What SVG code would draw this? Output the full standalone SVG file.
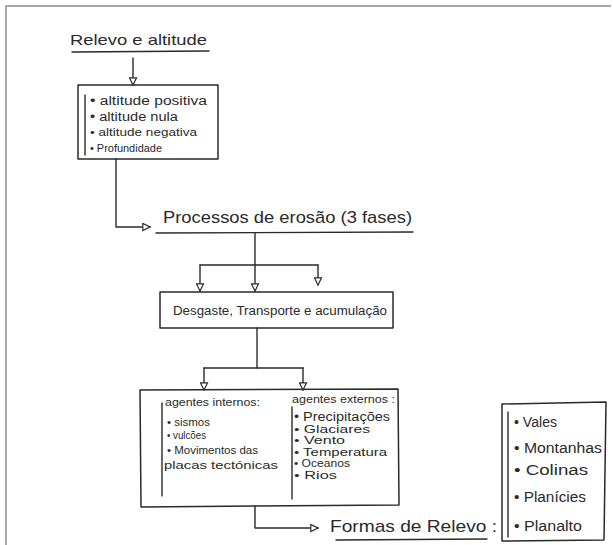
<svg xmlns="http://www.w3.org/2000/svg" width="613" height="545" viewBox="0 0 613 545">
<style>
.ln{fill:none;stroke:#2a2a2a;stroke-width:1.4;stroke-linecap:round;stroke-linejoin:round}
.bx{fill:none;stroke:#2a2a2a;stroke-width:1.5;stroke-linejoin:round}
.t{font-family:"Liberation Sans",Arial,sans-serif;fill:#2a2a2a}
.s10{font-size:10px}.s11{font-size:11px}.s12{font-size:12px}.s14{font-size:14px}.s15{font-size:15px}.s17{font-size:17px}
</style>
<defs>
<marker id="ah" viewBox="0 0 10 10" refX="9" refY="5" markerWidth="9" markerHeight="9" markerUnits="userSpaceOnUse" orient="auto">
<path d="M1,1 L9,5 L1,9 Z" fill="#fff" stroke="#2a2a2a" stroke-width="1.3"/>
</marker>
</defs>
<rect width="613" height="545" fill="#fff"/>
<path d="M6,545 L6,6 L611,6" fill="none" stroke="#8a8a8a" stroke-width="1.5"/>

<g id="title">
<text class="t s15" x="70" y="45" textLength="137" lengthAdjust="spacingAndGlyphs">Relevo e altitude</text>
<line class="ln" x1="72" y1="52" x2="209" y2="51"/>
</g>

<g id="altitude-box">
<rect class="bx" x="78" y="85" width="140" height="74"/>
<line class="ln" x1="85" y1="95" x2="85" y2="155"/>
<text class="t s12" x="90" y="105" textLength="117" lengthAdjust="spacingAndGlyphs">• altitude positiva</text>
<text class="t s12" x="90" y="121" textLength="88" lengthAdjust="spacingAndGlyphs">• altitude nula</text>
<text class="t s11" x="90" y="136" textLength="107" lengthAdjust="spacingAndGlyphs">• altitude negativa</text>
<text class="t s11" x="90" y="152" textLength="72" lengthAdjust="spacingAndGlyphs">• Profundidade</text>
</g>

<g id="erosao">
<text class="t s17" x="163" y="223" textLength="249" lengthAdjust="spacingAndGlyphs">Processos de erosão (3 fases)</text>
<line class="ln" x1="156" y1="233" x2="413" y2="232"/>
</g>

<g id="fases-box">
<rect class="bx" x="160" y="292" width="233" height="36"/>
<text class="t s12" x="173" y="315" textLength="214" lengthAdjust="spacingAndGlyphs">Desgaste, Transporte e acumulação</text>
</g>

<g id="agentes-box">
<path class="bx" d="M140,390 L398,389 L399,505 L141,507 Z"/>
<line class="ln" x1="162" y1="403" x2="162" y2="496"/>
<line class="ln" x1="292" y1="407" x2="292" y2="499"/>
<text class="t s11" x="165" y="406" textLength="95" lengthAdjust="spacingAndGlyphs">agentes internos:</text>
<text class="t s10" x="167" y="426" textLength="43" lengthAdjust="spacingAndGlyphs">• sismos</text>
<text class="t s10" x="167" y="439" textLength="39" lengthAdjust="spacingAndGlyphs">• vulcões</text>
<text class="t s11" x="167" y="454" textLength="91" lengthAdjust="spacingAndGlyphs">• Movimentos das</text>
<text class="t s11" x="164" y="469" textLength="114" lengthAdjust="spacingAndGlyphs">placas tectónicas</text>
<text class="t s11" x="292" y="403" textLength="103" lengthAdjust="spacingAndGlyphs">agentes externos :</text>
<text class="t s12" x="294" y="421" textLength="96" lengthAdjust="spacingAndGlyphs">• Precipitações</text>
<text class="t s10" x="294" y="433" textLength="76" lengthAdjust="spacingAndGlyphs">• Glaciares</text>
<text class="t s10" x="294" y="444" textLength="51" lengthAdjust="spacingAndGlyphs">• Vento</text>
<text class="t s11" x="294" y="456" textLength="93" lengthAdjust="spacingAndGlyphs">• Temperatura</text>
<text class="t s10" x="294" y="467" textLength="56" lengthAdjust="spacingAndGlyphs">• Oceanos</text>
<text class="t s10" x="294" y="479" textLength="43" lengthAdjust="spacingAndGlyphs">• Rios</text>
</g>

<g id="formas">
<text class="t s17" x="330" y="532" textLength="167" lengthAdjust="spacingAndGlyphs">Formas de Relevo :</text>
<line class="ln" x1="336" y1="540" x2="487" y2="539"/>
</g>

<g id="formas-box">
<path class="bx" d="M502,404 L606,402 L604,540 L502,541 Z"/>
<line class="ln" x1="508" y1="412" x2="508" y2="537"/>
<text class="t s14" x="514" y="427" textLength="43" lengthAdjust="spacingAndGlyphs">• Vales</text>
<text class="t s14" x="514" y="453" textLength="88" lengthAdjust="spacingAndGlyphs">• Montanhas</text>
<text class="t s14" x="514" y="475" textLength="74" lengthAdjust="spacingAndGlyphs">• Colinas</text>
<text class="t s14" x="514" y="502" textLength="72" lengthAdjust="spacingAndGlyphs">• Planícies</text>
<text class="t s14" x="514" y="531" textLength="68" lengthAdjust="spacingAndGlyphs">• Planalto</text>
</g>

<g id="connectors">
<path class="ln" d="M133,58 L133,85" marker-end="url(#ah)"/>
<path class="ln" d="M116,159 L116,227 L150,227" marker-end="url(#ah)"/>
<path class="ln" d="M255,233 L255,291" marker-end="url(#ah)"/>
<path class="ln" d="M200,265 L318,265"/>
<path class="ln" d="M200,265 L200,291" marker-end="url(#ah)"/>
<path class="ln" d="M318,265 L318,285" marker-end="url(#ah)"/>
<path class="ln" d="M257,328 L257,368"/>
<path class="ln" d="M204,368 L303,368"/>
<path class="ln" d="M204,368 L204,390" marker-end="url(#ah)"/>
<path class="ln" d="M303,368 L303,390" marker-end="url(#ah)"/>
<path class="ln" d="M255,506 L255,528 L318,528" marker-end="url(#ah)"/>
</g>
</svg>
